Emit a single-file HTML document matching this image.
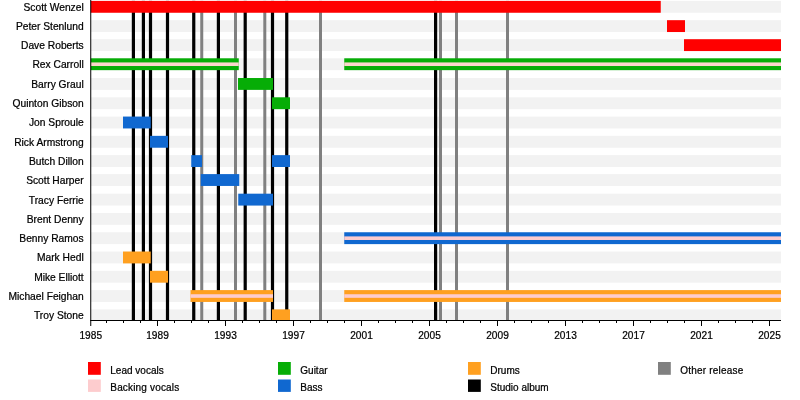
<!DOCTYPE html>
<html><head><meta charset="utf-8"><title>Timeline</title>
<style>
html,body{margin:0;padding:0;background:#fff;}
body{width:800px;height:400px;overflow:hidden;}
.t{font-family:"Liberation Sans",Arial,sans-serif;font-size:10px;fill:#000;stroke:#000;stroke-width:0.22px;}
.n{font-size:10.25px;}
.y{font-size:10.15px;}
</style></head><body>
<svg width="800" height="400" viewBox="0 0 800 400" style="display:block">
<rect width="800" height="400" fill="#fff"/>
<rect x="90.75" y="0.90" width="690.25" height="11.85" fill="#f2f2f2"/>
<rect x="90.75" y="20.18" width="690.25" height="11.85" fill="#f2f2f2"/>
<rect x="90.75" y="39.20" width="690.25" height="11.85" fill="#f2f2f2"/>
<rect x="90.75" y="58.30" width="690.25" height="11.85" fill="#f2f2f2"/>
<rect x="90.75" y="78.02" width="690.25" height="11.85" fill="#f2f2f2"/>
<rect x="90.75" y="97.30" width="690.25" height="11.85" fill="#f2f2f2"/>
<rect x="90.75" y="116.58" width="690.25" height="11.85" fill="#f2f2f2"/>
<rect x="90.75" y="135.86" width="690.25" height="11.85" fill="#f2f2f2"/>
<rect x="90.75" y="155.14" width="690.25" height="11.85" fill="#f2f2f2"/>
<rect x="90.75" y="174.10" width="690.25" height="11.85" fill="#f2f2f2"/>
<rect x="90.75" y="193.70" width="690.25" height="11.85" fill="#f2f2f2"/>
<rect x="90.75" y="212.98" width="690.25" height="11.85" fill="#f2f2f2"/>
<rect x="90.75" y="232.26" width="690.25" height="11.85" fill="#f2f2f2"/>
<rect x="90.75" y="251.54" width="690.25" height="11.85" fill="#f2f2f2"/>
<rect x="90.75" y="270.82" width="690.25" height="11.85" fill="#f2f2f2"/>
<rect x="90.75" y="290.10" width="690.25" height="11.85" fill="#f2f2f2"/>
<rect x="90.75" y="309.38" width="690.25" height="11.12" fill="#f2f2f2"/>
<rect x="200.25" y="0.9" width="3" height="319.6" fill="#808080"/>
<rect x="234.00" y="0.9" width="3" height="319.6" fill="#808080"/>
<rect x="263.30" y="0.9" width="3" height="319.6" fill="#808080"/>
<rect x="319.00" y="0.9" width="3" height="319.6" fill="#808080"/>
<rect x="439.00" y="0.9" width="3" height="319.6" fill="#808080"/>
<rect x="455.00" y="0.9" width="3" height="319.6" fill="#808080"/>
<rect x="506.00" y="0.9" width="3" height="319.6" fill="#808080"/>
<rect x="131.80" y="0.9" width="3.2" height="319.6" fill="#000"/>
<rect x="141.80" y="0.9" width="3.2" height="319.6" fill="#000"/>
<rect x="148.90" y="0.9" width="3.2" height="319.6" fill="#000"/>
<rect x="165.90" y="0.9" width="3.2" height="319.6" fill="#000"/>
<rect x="192.15" y="0.9" width="3.2" height="319.6" fill="#000"/>
<rect x="216.80" y="0.9" width="3.2" height="319.6" fill="#000"/>
<rect x="243.60" y="0.9" width="3.2" height="319.6" fill="#000"/>
<rect x="270.90" y="0.9" width="3.2" height="319.6" fill="#000"/>
<rect x="285.15" y="0.9" width="3.2" height="319.6" fill="#000"/>
<rect x="434.00" y="0.9" width="3.2" height="319.6" fill="#000"/>
<rect x="90.75" y="0.90" width="570.00" height="11.85" fill="#ff0000"/>
<rect x="667.00" y="20.18" width="18.00" height="11.85" fill="#ff0000"/>
<rect x="684.00" y="39.20" width="97.00" height="11.85" fill="#ff0000"/>
<rect x="90.75" y="58.30" width="148.00" height="11.85" fill="#06ad06"/>
<rect x="344.25" y="58.30" width="436.75" height="11.85" fill="#06ad06"/>
<rect x="90.75" y="62.42" width="148.00" height="3.60" fill="#fcd6cc"/>
<rect x="344.25" y="62.42" width="436.75" height="3.60" fill="#fcd6cc"/>
<rect x="238.00" y="78.02" width="35.00" height="11.85" fill="#06ad06"/>
<rect x="272.00" y="97.30" width="18.00" height="11.85" fill="#06ad06"/>
<rect x="123.00" y="116.58" width="27.75" height="11.85" fill="#1068d0"/>
<rect x="150.00" y="135.86" width="18.00" height="11.85" fill="#1068d0"/>
<rect x="191.25" y="155.14" width="10.75" height="11.85" fill="#1068d0"/>
<rect x="272.00" y="155.14" width="18.00" height="11.85" fill="#1068d0"/>
<rect x="200.75" y="174.10" width="38.50" height="11.85" fill="#1068d0"/>
<rect x="238.25" y="193.70" width="34.75" height="11.85" fill="#1068d0"/>
<rect x="344.25" y="232.26" width="436.75" height="11.85" fill="#1068d0"/>
<rect x="344.25" y="236.39" width="436.75" height="3.60" fill="#fdccce"/>
<rect x="123.00" y="251.54" width="27.75" height="11.85" fill="#ffa020"/>
<rect x="150.00" y="270.82" width="18.00" height="11.85" fill="#ffa020"/>
<rect x="190.50" y="290.10" width="82.50" height="11.85" fill="#ffa020"/>
<rect x="344.25" y="290.10" width="436.75" height="11.85" fill="#ffa020"/>
<rect x="190.50" y="294.23" width="82.50" height="3.60" fill="#fdccce"/>
<rect x="344.25" y="294.23" width="436.75" height="3.60" fill="#fdccce"/>
<rect x="272.00" y="309.38" width="18.00" height="11.12" fill="#ffa020"/>
<rect x="90.25" y="0" width="1" height="321.0" fill="#000"/>
<rect x="90.25" y="320.0" width="690.75" height="1" fill="#000"/>
<rect x="90.25" y="320.5" width="1" height="5.5" fill="#000"/>
<text x="90.75" y="338.9" text-anchor="middle" class="t y">1985</text>
<rect x="106.00" y="320.5" width="1" height="2.5" fill="#000"/>
<rect x="123.00" y="320.5" width="1" height="2.5" fill="#000"/>
<rect x="140.00" y="320.5" width="1" height="2.5" fill="#000"/>
<rect x="157.00" y="320.5" width="1" height="5.5" fill="#000"/>
<text x="157.50" y="338.9" text-anchor="middle" class="t y">1989</text>
<rect x="174.00" y="320.5" width="1" height="2.5" fill="#000"/>
<rect x="191.00" y="320.5" width="1" height="2.5" fill="#000"/>
<rect x="208.00" y="320.5" width="1" height="2.5" fill="#000"/>
<rect x="225.00" y="320.5" width="1" height="5.5" fill="#000"/>
<text x="225.50" y="338.9" text-anchor="middle" class="t y">1993</text>
<rect x="242.00" y="320.5" width="1" height="2.5" fill="#000"/>
<rect x="259.00" y="320.5" width="1" height="2.5" fill="#000"/>
<rect x="276.00" y="320.5" width="1" height="2.5" fill="#000"/>
<rect x="293.00" y="320.5" width="1" height="5.5" fill="#000"/>
<text x="293.50" y="338.9" text-anchor="middle" class="t y">1997</text>
<rect x="310.00" y="320.5" width="1" height="2.5" fill="#000"/>
<rect x="327.00" y="320.5" width="1" height="2.5" fill="#000"/>
<rect x="344.00" y="320.5" width="1" height="2.5" fill="#000"/>
<rect x="361.00" y="320.5" width="1" height="5.5" fill="#000"/>
<text x="361.50" y="338.9" text-anchor="middle" class="t y">2001</text>
<rect x="378.00" y="320.5" width="1" height="2.5" fill="#000"/>
<rect x="395.00" y="320.5" width="1" height="2.5" fill="#000"/>
<rect x="412.00" y="320.5" width="1" height="2.5" fill="#000"/>
<rect x="429.00" y="320.5" width="1" height="5.5" fill="#000"/>
<text x="429.50" y="338.9" text-anchor="middle" class="t y">2005</text>
<rect x="446.00" y="320.5" width="1" height="2.5" fill="#000"/>
<rect x="463.00" y="320.5" width="1" height="2.5" fill="#000"/>
<rect x="480.00" y="320.5" width="1" height="2.5" fill="#000"/>
<rect x="497.00" y="320.5" width="1" height="5.5" fill="#000"/>
<text x="497.50" y="338.9" text-anchor="middle" class="t y">2009</text>
<rect x="514.00" y="320.5" width="1" height="2.5" fill="#000"/>
<rect x="531.00" y="320.5" width="1" height="2.5" fill="#000"/>
<rect x="548.00" y="320.5" width="1" height="2.5" fill="#000"/>
<rect x="565.00" y="320.5" width="1" height="5.5" fill="#000"/>
<text x="565.50" y="338.9" text-anchor="middle" class="t y">2013</text>
<rect x="582.00" y="320.5" width="1" height="2.5" fill="#000"/>
<rect x="599.00" y="320.5" width="1" height="2.5" fill="#000"/>
<rect x="616.00" y="320.5" width="1" height="2.5" fill="#000"/>
<rect x="633.00" y="320.5" width="1" height="5.5" fill="#000"/>
<text x="633.50" y="338.9" text-anchor="middle" class="t y">2017</text>
<rect x="650.00" y="320.5" width="1" height="2.5" fill="#000"/>
<rect x="667.00" y="320.5" width="1" height="2.5" fill="#000"/>
<rect x="684.00" y="320.5" width="1" height="2.5" fill="#000"/>
<rect x="701.00" y="320.5" width="1" height="5.5" fill="#000"/>
<text x="701.50" y="338.9" text-anchor="middle" class="t y">2021</text>
<rect x="718.00" y="320.5" width="1" height="2.5" fill="#000"/>
<rect x="735.00" y="320.5" width="1" height="2.5" fill="#000"/>
<rect x="752.00" y="320.5" width="1" height="2.5" fill="#000"/>
<rect x="769.00" y="320.5" width="1" height="5.5" fill="#000"/>
<text x="769.50" y="338.9" text-anchor="middle" class="t y">2025</text>
<text x="83.7" y="10.70" text-anchor="end" class="t n">Scott Wenzel</text>
<text x="83.7" y="29.98" text-anchor="end" class="t n">Peter Stenlund</text>
<text x="83.7" y="49.00" text-anchor="end" class="t n">Dave Roberts</text>
<text x="83.7" y="68.10" text-anchor="end" class="t n">Rex Carroll</text>
<text x="83.7" y="87.82" text-anchor="end" class="t n">Barry Graul</text>
<text x="83.7" y="107.10" text-anchor="end" class="t n">Quinton Gibson</text>
<text x="83.7" y="126.38" text-anchor="end" class="t n">Jon Sproule</text>
<text x="83.7" y="145.66" text-anchor="end" class="t n">Rick Armstrong</text>
<text x="83.7" y="164.94" text-anchor="end" class="t n">Butch Dillon</text>
<text x="83.7" y="183.90" text-anchor="end" class="t n">Scott Harper</text>
<text x="83.7" y="203.50" text-anchor="end" class="t n">Tracy Ferrie</text>
<text x="83.7" y="222.78" text-anchor="end" class="t n">Brent Denny</text>
<text x="83.7" y="242.06" text-anchor="end" class="t n">Benny Ramos</text>
<text x="83.7" y="261.34" text-anchor="end" class="t n">Mark Hedl</text>
<text x="83.7" y="280.62" text-anchor="end" class="t n">Mike Elliott</text>
<text x="83.7" y="299.90" text-anchor="end" class="t n">Michael Feighan</text>
<text x="83.7" y="319.18" text-anchor="end" class="t n">Troy Stone</text>
<rect x="88" y="362.00" width="12.8" height="12.8" fill="#ff0000"/>
<text x="110.30" y="373.8" class="t">Lead vocals</text>
<rect x="88" y="379.50" width="12.8" height="12.4" fill="#fdccce"/>
<text x="110.30" y="390.7" textLength="68.9" class="t">Backing vocals</text>
<rect x="278" y="362.00" width="12.8" height="12.8" fill="#06ad06"/>
<text x="300.30" y="373.8" class="t">Guitar</text>
<rect x="278" y="379.50" width="12.8" height="12.4" fill="#1068d0"/>
<text x="300.30" y="390.7" class="t">Bass</text>
<rect x="468" y="362.00" width="12.8" height="12.8" fill="#ffa020"/>
<text x="490.30" y="373.8" class="t">Drums</text>
<rect x="468" y="379.50" width="12.8" height="12.4" fill="#000"/>
<text x="490.30" y="390.7" class="t">Studio album</text>
<rect x="658" y="362.00" width="12.8" height="12.8" fill="#808080"/>
<text x="680.30" y="373.8" textLength="62.9" class="t">Other release</text>
</svg>
</body></html>
